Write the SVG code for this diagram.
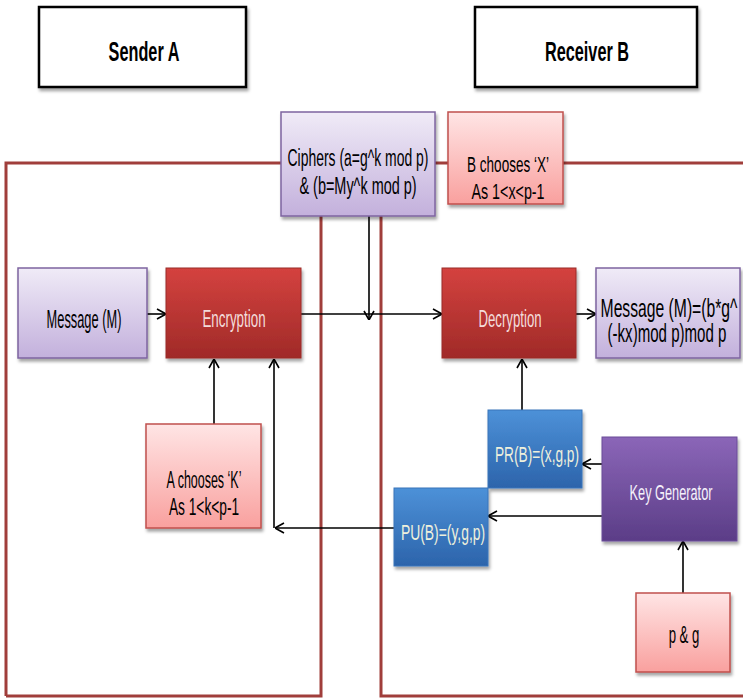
<svg xmlns="http://www.w3.org/2000/svg" width="743" height="698" viewBox="0 0 743 698">
<defs>
<linearGradient id="gPurpleL" x1="0" y1="0" x2="0" y2="1"><stop offset="0" stop-color="#f0ebf7"/><stop offset="1" stop-color="#c3b0dc"/></linearGradient>
<linearGradient id="gRed" x1="0" y1="0" x2="0" y2="1"><stop offset="0" stop-color="#d4423f"/><stop offset="1" stop-color="#a02a28"/></linearGradient>
<linearGradient id="gPink" x1="0" y1="0" x2="0" y2="1"><stop offset="0" stop-color="#ffe5e5"/><stop offset="1" stop-color="#f9a09e"/></linearGradient>
<linearGradient id="gBlue" x1="0" y1="0" x2="0" y2="1"><stop offset="0" stop-color="#4d91d8"/><stop offset="1" stop-color="#2c64ab"/></linearGradient>
<linearGradient id="gPurpleD" x1="0" y1="0" x2="0" y2="1"><stop offset="0" stop-color="#8b66b8"/><stop offset="1" stop-color="#5b3d87"/></linearGradient>
<filter id="sh" x="-10%" y="-10%" width="125%" height="130%"><feDropShadow dx="1.5" dy="3" stdDeviation="1.6" flood-color="#000" flood-opacity="0.35"/></filter>
<marker id="ah" viewBox="0 0 10 12" refX="10" refY="6" markerWidth="10" markerHeight="12" markerUnits="userSpaceOnUse" orient="auto"><path d="M1,1 L10,6 L1,11" fill="none" stroke="#000" stroke-width="1.6"/></marker>
<style>
.t{font-family:"Liberation Sans",Arial,sans-serif;text-anchor:middle;}
.hd{font-weight:bold;font-size:27px;fill:#000;}
.dk{fill:#000;}
.lt{fill:#f3dcdb;}
.bl{fill:#eef0dc;}
.wh{fill:#f4f0fa;}
.hbox{fill:#fff;stroke:#000;stroke-width:2.5;}
.pl{fill:url(#gPurpleL);stroke:#7e64a0;stroke-width:1.5;}
.rd{fill:url(#gRed);stroke:#9a2c29;stroke-width:1;}
.pk{fill:url(#gPink);stroke:#c0504d;stroke-width:1.5;}
.bu{fill:url(#gBlue);stroke:#3a74ba;stroke-width:1;}
.pd{fill:url(#gPurpleD);stroke:#6a4c98;stroke-width:1;}
.panel{fill:none;stroke:#a03e3b;stroke-width:3;}
.c{fill:none;stroke:#000;stroke-width:1.6;marker-end:url(#ah);}
</style>
</defs>
<rect width="743" height="698" fill="#fff"/>

<g id="panels">
<path class="panel" d="M6,696 V163 H743"/>
<path class="panel" d="M6,696 H321 V216"/>
<path class="panel" d="M381,216 V696 H743"/>
</g>

<g id="sender">
<rect class="hbox" x="39" y="7" width="207" height="80" filter="url(#sh)"/>
<text class="t hd" transform="translate(144,61) scale(0.58,1)" textLength="122" lengthAdjust="spacingAndGlyphs">Sender A</text>
</g>
<g id="receiver">
<rect class="hbox" x="475" y="7" width="222" height="80" filter="url(#sh)"/>
<text class="t hd" transform="translate(587,61) scale(0.58,1)" textLength="145" lengthAdjust="spacingAndGlyphs">Receiver B</text>
</g>

<g id="connectors">
<line class="c" x1="147" y1="314" x2="166" y2="314"/>
<line class="c" x1="301" y1="314" x2="442" y2="314" stroke-width="2"/>
<line class="c" x1="369" y1="216" x2="369" y2="320"/>
<line class="c" x1="576" y1="314" x2="596" y2="314" stroke-width="2"/>
<line class="c" x1="214" y1="424" x2="214" y2="359"/>
<line class="c" x1="394" y1="528" x2="275" y2="528"/>
<line class="c" x1="274" y1="528" x2="274" y2="359"/>
<line class="c" x1="602" y1="464" x2="582" y2="464" stroke-width="2"/>
<line class="c" x1="602" y1="516" x2="488" y2="516" stroke-width="2"/>
<line class="c" x1="683" y1="593" x2="683" y2="541"/>
<line class="c" x1="522" y1="410" x2="522" y2="359"/>
</g>

<g id="ciphers">
<rect class="pl" x="281" y="112" width="154" height="104" filter="url(#sh)"/>
<text class="t dk" transform="translate(358,166) scale(0.58,1)" font-size="23" textLength="243" lengthAdjust="spacingAndGlyphs">Ciphers (a=g^k mod p)</text>
<text class="t dk" transform="translate(358,194) scale(0.58,1)" font-size="23" textLength="202" lengthAdjust="spacingAndGlyphs">&amp; (b=My^k mod p)</text>
</g>

<g id="bchooses">
<rect class="pk" x="448" y="112" width="115" height="92" filter="url(#sh)"/>
<text class="t dk" transform="translate(508,172) scale(0.58,1)" font-size="22" textLength="141" lengthAdjust="spacingAndGlyphs">B chooses ‘X’</text>
<text class="t dk" transform="translate(508,199) scale(0.58,1)" font-size="22" textLength="126" lengthAdjust="spacingAndGlyphs">As 1&lt;x&lt;p-1</text>
</g>

<g id="messageA">
<rect class="pl" x="18" y="268" width="129" height="90" filter="url(#sh)"/>
<text class="t dk" transform="translate(84,328) scale(0.58,1)" font-size="26" textLength="129" lengthAdjust="spacingAndGlyphs">Message (M)</text>
</g>

<g id="encryption">
<rect class="rd" x="166" y="268" width="135" height="90" filter="url(#sh)"/>
<text class="t lt" transform="translate(234,327) scale(0.58,1)" font-size="24" textLength="109" lengthAdjust="spacingAndGlyphs">Encryption</text>
</g>

<g id="decryption">
<rect class="rd" x="442" y="268" width="134" height="90" filter="url(#sh)"/>
<text class="t lt" transform="translate(510,327) scale(0.58,1)" font-size="24" textLength="109" lengthAdjust="spacingAndGlyphs">Decryption</text>
</g>

<g id="messageB">
<rect class="pl" x="596" y="268" width="144" height="90" filter="url(#sh)"/>
<text class="t dk" transform="translate(669,317) scale(0.58,1)" font-size="25" textLength="236" lengthAdjust="spacingAndGlyphs">Message (M)=(b*g^</text>
<text class="t dk" transform="translate(667,342) scale(0.58,1)" font-size="25" textLength="205" lengthAdjust="spacingAndGlyphs">(-kx)mod p)mod p</text>
</g>

<g id="achooses">
<rect class="pk" x="146" y="424" width="115" height="104" filter="url(#sh)"/>
<text class="t dk" transform="translate(204,488) scale(0.58,1)" font-size="24" textLength="129" lengthAdjust="spacingAndGlyphs">A chooses ‘K’</text>
<text class="t dk" transform="translate(204,515) scale(0.58,1)" font-size="24" textLength="121" lengthAdjust="spacingAndGlyphs">As 1&lt;k&lt;p-1</text>
</g>

<g id="prb">
<rect class="bu" x="488" y="410" width="94" height="78" filter="url(#sh)"/>
<text class="t bl" transform="translate(537,462) scale(0.58,1)" font-size="22" textLength="145" lengthAdjust="spacingAndGlyphs">PR(B)=(x,g,p)</text>
</g>

<g id="pub">
<rect class="bu" x="394" y="488" width="94" height="78" filter="url(#sh)"/>
<text class="t bl" transform="translate(443,540) scale(0.58,1)" font-size="22" textLength="145" lengthAdjust="spacingAndGlyphs">PU(B)=(y,g,p)</text>
</g>

<g id="keygen">
<rect class="pd" x="602" y="437" width="135" height="104" filter="url(#sh)"/>
<text class="t wh" transform="translate(671,500) scale(0.58,1)" font-size="22" textLength="143" lengthAdjust="spacingAndGlyphs">Key Generator</text>
</g>

<g id="pg">
<rect class="pk" x="636" y="593" width="94" height="79" filter="url(#sh)"/>
<text class="t dk" transform="translate(684,643) scale(0.58,1)" font-size="23" textLength="53" lengthAdjust="spacingAndGlyphs">p &amp; g</text>
</g>
</svg>
